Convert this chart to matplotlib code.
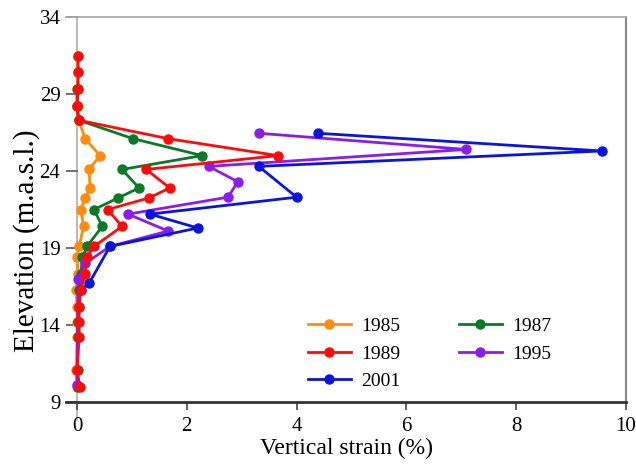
import matplotlib
matplotlib.use("Agg")
import matplotlib.pyplot as plt

# elevation (m.a.s.l.) and vertical strain (%) for each survey year
elev_1985 = [31.5, 30.4, 29.3, 28.2, 27.3, 26.1, 25.0, 24.1, 22.9, 22.25, 21.5,
             20.4, 19.1, 18.4, 17.3, 16.3, 15.2, 14.2, 13.2, 11.1, 10.0]
strain_1985 = [0.01, 0.01, 0.01, 0.01, 0.03, 0.15, 0.42, 0.22, 0.24, 0.15, 0.07,
               0.12, 0.04, 0.0, 0.02, -0.02, 0.0, 0.0, 0.0, -0.01, 0.0]

elev_1987 = [29.3, 28.2, 27.3, 26.1, 25.0, 24.1, 22.9, 22.25, 21.5,
             20.4, 19.1, 18.4, 17.3, 16.3, 15.2, 14.2, 13.2, 11.1, 10.0]
strain_1987 = [0.0, 0.0, 0.03, 1.02, 2.28, 0.82, 1.13, 0.75, 0.31,
               0.46, 0.18, 0.10, 0.07, 0.04, 0.03, 0.02, 0.02, 0.01, 0.02]

elev_1989 = [31.5, 30.4, 29.3, 28.2, 27.3, 26.1, 25.0, 24.1, 22.9, 22.25, 21.5,
             20.4, 19.1, 18.4, 17.3, 16.3, 15.2, 14.2, 13.2, 11.1, 10.0]
strain_1989 = [0.02, 0.02, 0.02, 0.0, 0.03, 1.66, 3.66, 1.26, 1.69, 1.31, 0.56,
               0.82, 0.31, 0.18, 0.15, 0.07, 0.04, 0.04, 0.04, 0.0, 0.05]

elev_1995 = [26.45, 25.4, 24.3, 23.3, 22.3, 21.2, 20.1, 19.1, 18.0, 17.0, 10.1]
strain_1995 = [3.31, 7.09, 2.40, 2.93, 2.75, 0.93, 1.66, 0.60, 0.15, 0.02, 0.0]

elev_2001 = [26.45, 25.3, 24.3, 22.3, 21.2, 20.3, 19.1, 16.7, 16.3]
strain_2001 = [4.39, 9.56, 3.31, 4.00, 1.33, 2.20, 0.60, 0.22, 0.07]

plt.rcParams['font.family'] = ['Liberation Serif', 'DejaVu Serif']

fig = plt.figure(figsize=(6.36, 4.70), dpi=100)
ax = fig.add_axes([66 / 636, 68 / 470, 560 / 636, 385 / 470])

style = dict(marker='o', markersize=6.5, linewidth=2.0, clip_on=False)
l85, = ax.plot(strain_1985, elev_1985, color='#FF8C0A', label='1985', zorder=3, **style)
l87, = ax.plot(strain_1987, elev_1987, color='#0A7A28', label='1987', zorder=4, **style)
l95, = ax.plot(strain_1995, elev_1995, color='#8A1CF0', label='1995', zorder=5, **style)
l01, = ax.plot(strain_2001, elev_2001, color='#0A14E0', label='2001', zorder=6, **style)
l89, = ax.plot(strain_1989, elev_1989, color='#FF0A0A', label='1989', zorder=7, **style)

# zero line
ax.plot([0, 0], [7.8, 34], color='#bbbbbb', lw=1.5, zorder=1, clip_on=False)

ax.set_xlim(-0.2, 10)
ax.set_ylim(9, 34)
ax.set_xticks([0, 2, 4, 6, 8, 10])
ax.set_yticks([9, 14, 19, 24, 29, 34])

ax.spines['left'].set_visible(False)
ax.spines['top'].set_color('#aaaaaa')
ax.spines['top'].set_linewidth(1.3)
ax.spines['right'].set_color('#888888')
ax.spines['right'].set_linewidth(1.5)
ax.spines['bottom'].set_color('#333333')
ax.spines['bottom'].set_linewidth(2.0)

ax.tick_params(axis='y', direction='in', length=8.5, width=1.3, color='#666666',
               labelsize=15, pad=4)
ax.tick_params(axis='x', direction='out', length=6, width=1.3, color='#555555',
               labelsize=15, pad=5)

ax.set_xlabel('Vertical strain (%)', fontsize=17, labelpad=1)
ax.set_ylabel('Elevation (m.a.s.l.)', fontsize=21)
ax.yaxis.set_label_coords(-0.047, 0.42)

ax.legend([l85, l89, l01, l87, l95], ['1985', '1989', '2001', '1987', '1995'],
          ncol=2, frameon=False, fontsize=14, loc='upper left',
          bbox_to_anchor=(0.432, 0.219), borderpad=0, borderaxespad=0,
          handlelength=2.2, handletextpad=0.55, columnspacing=3.0,
          labelspacing=0.5)

fig.savefig('out.png', dpi=100)
